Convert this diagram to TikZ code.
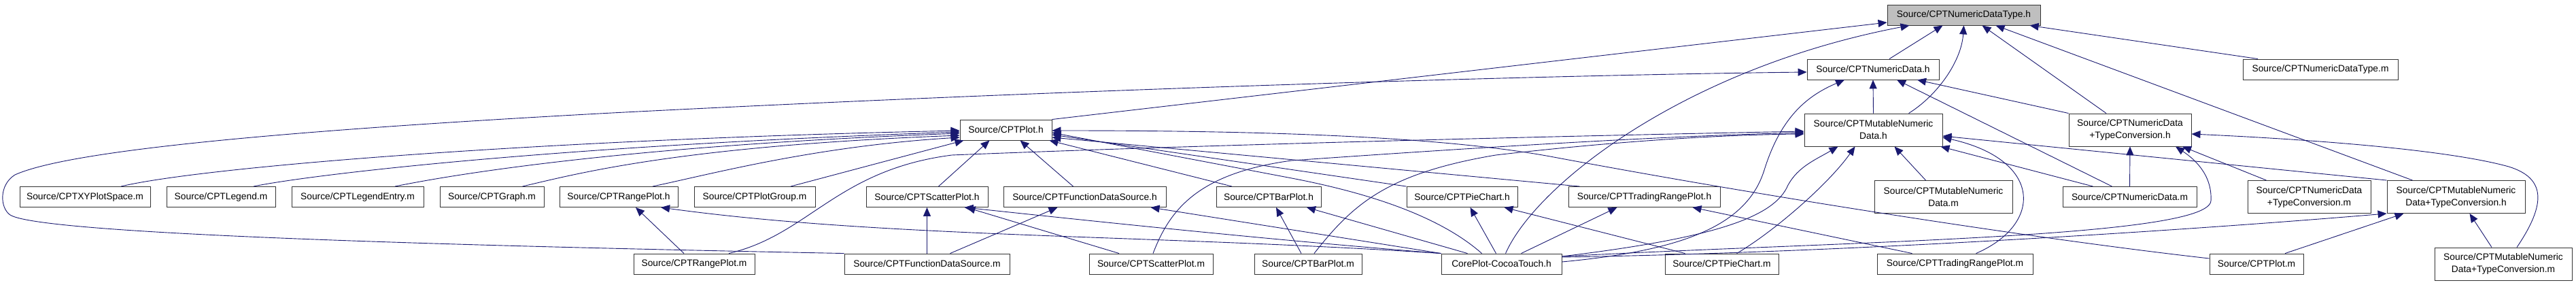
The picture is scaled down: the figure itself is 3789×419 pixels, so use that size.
\documentclass[tikz,border=0pt]{standalone}
\usepackage{fontspec}
\setmainfont{Liberation Sans}
\usetikzlibrary{arrows.meta}
\definecolor{incCol}{HTML}{191970}
\definecolor{curCol}{HTML}{BFBFBF}
\tikzset{
  file/.style={draw=black!80, fill=white, line width=0.9pt, minimum height=30pt, inner sep=0pt,
               font=\fontsize{13.8}{18}\selectfont, align=center},
  twoline/.style={minimum height=48pt},
  curfile/.style={file, fill=curCol},
  inc/.style={-{Triangle[length=13pt,width=11pt]}, incCol, line width=0.9pt},   % "is included by"
}
\begin{document}
\begin{tikzpicture}[x=1pt,y=-1pt]
  \useasboundingbox (0,0) rectangle (3789,419);

  % rows 0-2
  \node[curfile, minimum width=225pt] (ndt) at (2888.5,22) {Source/CPTNumericDataType.h};
  \node[file, minimum width=194pt] (nd)   at (2755,102)  {Source/CPTNumericData.h};
  \node[file, minimum width=228pt] (ndtm) at (3413,102)  {Source/CPTNumericDataType.m};
  \node[file, minimum width=135pt] (ploth) at (1479.5,191) {Source/CPTPlot.h};
  \node[file, twoline, minimum width=203pt] (mndh)  at (2755.5,191) {Source/CPTMutableNumeric\\Data.h};
  \node[file, twoline, minimum width=180pt] (ndtch) at (3133,191)   {Source/CPTNumericData\\+TypeConversion.h};

  % row 3
  \node[file, minimum width=192pt] (xyps)     at (125,289.5)  {Source/CPTXYPlotSpace.m};
  \node[file, minimum width=160pt] (legend)   at (325,289.5)  {Source/CPTLegend.m};
  \node[file, minimum width=194pt] (legentry) at (526,289.5)  {Source/CPTLegendEntry.m};
  \node[file, minimum width=153pt] (graph)    at (723.5,289.5) {Source/CPTGraph.m};
  \node[file, minimum width=174pt] (rangeh)   at (910,289.5)  {Source/CPTRangePlot.h};
  \node[file, minimum width=178pt] (pgroup)   at (1110,289.5) {Source/CPTPlotGroup.m};
  \node[file, minimum width=179pt] (scath)    at (1363.5,289.5) {Source/CPTScatterPlot.h};
  \node[file, minimum width=239pt] (fdsh)     at (1595.5,289.5) {Source/CPTFunctionDataSource.h};
  \node[file, minimum width=154pt] (barh)     at (1866,289.5) {Source/CPTBarPlot.h};
  \node[file, minimum width=163pt] (pieh)     at (2150.5,289.5) {Source/CPTPieChart.h};
  \node[file, minimum width=223pt] (trph)     at (2418.5,289.5) {Source/CPTTradingRangePlot.h};
  \node[file, twoline, minimum width=203pt] (mndm)   at (2858.5,289.5) {Source/CPTMutableNumeric\\Data.m};
  \node[file, minimum width=197pt] (ndm)      at (3132.5,289.5) {Source/CPTNumericData.m};
  \node[file, twoline, minimum width=181pt] (ndtcm)  at (3396.5,289.5) {Source/CPTNumericData\\+TypeConversion.m};
  \node[file, twoline, minimum width=203pt] (mndtch) at (3612.5,289.5) {Source/CPTMutableNumeric\\Data+TypeConversion.h};

  % row 4
  \node[file, minimum width=178pt] (rangem) at (1021,388)   {Source/CPTRangePlot.m};
  \node[file, minimum width=243pt] (fdsm)   at (1363.5,388) {Source/CPTFunctionDataSource.m};
  \node[file, minimum width=182pt] (scatm)  at (1693,388)   {Source/CPTScatterPlot.m};
  \node[file, minimum width=158pt] (barm)   at (1924,388)   {Source/CPTBarPlot.m};
  \node[file, minimum width=177pt] (cpct)   at (2208.5,388) {CorePlot-CocoaTouch.h};
  \node[file, minimum width=167pt] (piem)   at (2532.5,388) {Source/CPTPieChart.m};
  \node[file, minimum width=229pt] (trpm)   at (2875.5,388) {Source/CPTTradingRangePlot.m};
  \node[file, minimum width=138pt] (plotm)  at (3319,388)   {Source/CPTPlot.m};
  \node[file, twoline, minimum width=202pt] (mndtcm) at (3682,388) {Source/CPTMutableNumeric\\Data+TypeConversion.m};

  % into CPTNumericDataType.h
  \draw[inc] (ploth.north east) -- ([yshift=-11pt]ndt.west);
  \draw[inc] ([xshift=6pt]cpct.north) .. controls (2260,270) and (2480,100) .. ([xshift=-80pt]ndt.south);
  \draw[inc] ([xshift=24pt]nd.north) -- ([xshift=-31pt]ndt.south);
  \draw[inc] ([xshift=52pt]mndh.north) .. controls (2850,140) and (2885,90) .. (ndt.south);
  \draw[inc] ([xshift=-35pt]ndtch.north) -- ([xshift=27pt]ndt.south);
  \draw[inc] ([xshift=-64pt]mndtch.north) -- ([xshift=47pt]ndt.south);
  \draw[inc] ([xshift=-92pt]ndtm.north) -- ([xshift=97pt]ndt.south);

  % into CPTNumericData.h
  \draw[inc] (fdsm.north west) .. controls (700,362) and (60,345) .. (15,316)
    .. controls (0,306) and (-2,272) .. (22,257)
    .. controls (100,222) and (400,193) .. (900,166)
    .. controls (1600,130) and (2300,110) .. ([yshift=-4pt]nd.west);
  \draw[inc] (mndh.north) -- (nd.south);
  \draw[inc] (ndtch.north west) -- ([xshift=65pt]nd.south);
  \draw[inc] ([xshift=-26pt]ndm.north) -- ([xshift=35pt]nd.south);
  \draw[inc] ([yshift=3pt]cpct.east) .. controls (2480,368) and (2570,330) .. (2595,250)
    .. controls (2620,170) and (2660,140) .. ([xshift=-42pt]nd.south);

  % into CPTMutableNumericData.h
  \draw[inc] ([yshift=11pt]cpct.east) .. controls (2520,350) and (2610,320) .. (2630,272)
    .. controls (2645,245) and (2670,235) .. ([xshift=-52pt]mndh.south);
  \draw[inc] ([xshift=-26pt]mndm.north) -- ([xshift=31pt]mndh.south);
  \draw[inc] ([xshift=22pt]piem.north) .. controls (2610,340) and (2690,270) .. ([xshift=-27pt]mndh.south);
  \draw[inc] ([xshift=31pt]trpm.north) .. controls (3005,330) and (3005,235) .. ([yshift=-11pt]mndh.east);
  \draw[inc] ([xshift=-54pt]ndm.north) -- ([xshift=-3pt]mndh.south east);
  \draw[inc] (mndtch.north west) -- ([yshift=-9pt]mndh.east);
  \draw[inc] ([xshift=51pt]rangem.north) .. controls (1190,345) and (1230,250) .. (1400,228)
    .. controls (1800,212) and (2300,200) .. ([yshift=-2pt]mndh.west);
  \draw[inc] ([xshift=3pt]scatm.north) .. controls (1720,310) and (1760,255) .. (1900,236)
    .. controls (2200,215) and (2450,200) .. ([yshift=-4pt]mndh.west);
  \draw[inc] ([xshift=9pt]barm.north) .. controls (1990,300) and (2040,255) .. (2200,228)
    .. controls (2400,205) and (2550,198) .. ([yshift=-6pt]mndh.west);

  % into CPTPlot.h
  \draw[inc] ([xshift=53pt]xyps.north) .. controls (300,245) and (800,205) .. ([yshift=-1pt]ploth.west);
  \draw[inc] ([xshift=48pt]legend.north) .. controls (450,258) and (800,215) .. ([yshift=-3pt]ploth.west);
  \draw[inc] ([xshift=55pt]legentry.north) .. controls (650,260) and (900,215) .. ([yshift=-5pt]ploth.west);
  \draw[inc] ([xshift=45pt]graph.north) .. controls (850,255) and (1000,215) .. ([yshift=-8pt]ploth.west);
  \draw[inc] ([xshift=50pt]rangeh.north) .. controls (1050,255) and (1200,215) .. ([yshift=-11pt]ploth.west);
  \draw[inc] ([xshift=53pt]pgroup.north) -- ([xshift=6pt]ploth.south west);
  \draw[inc] ([xshift=17pt]scath.north) -- ([xshift=-24pt]ploth.south);
  \draw[inc] ([xshift=-17pt]fdsh.north) -- ([xshift=21pt]ploth.south);
  \draw[inc] ([xshift=-54pt]barh.north) -- ([xshift=-4pt]ploth.south east);
  \draw[inc] (pieh.north west) -- ([yshift=-7pt]ploth.east);
  \draw[inc] ([xshift=17pt]trph.north west) -- ([yshift=-11pt]ploth.east);
  \draw[inc] ([yshift=8pt]plotm.west) .. controls (3000,352) and (2600,290) .. (2280,230)
    .. controls (2100,197) and (1800,192) .. ([yshift=-1pt]ploth.east);
  \draw[inc] ([xshift=-29pt]cpct.north) .. controls (2120,320) and (2020,285) .. (1900,262)
    -- ([yshift=-4pt]ploth.east);

  % into the plot headers
  \draw[inc] ([xshift=-15pt]rangem.north) -- ([xshift=25pt]rangeh.south);
  \draw[inc] (cpct.north west) .. controls (1700,345) and (1300,350) .. ([xshift=62pt]rangeh.south);
  \draw[inc] (fdsm.north) -- (scath.south);
  \draw[inc] ([xshift=-47pt]scatm.north) -- ([xshift=58pt]scath.south);
  \draw[inc] (cpct.north west) .. controls (1900,355) and (1700,335) .. ([xshift=55pt]scath.south);
  \draw[inc] ([xshift=34pt]fdsm.north) -- ([xshift=-40pt]fdsh.south);
  \draw[inc] (cpct.north west) -- ([xshift=97pt]fdsh.south);
  \draw[inc] ([xshift=-10pt]barm.north) -- ([xshift=11pt]barh.south);
  \draw[inc] ([xshift=-50pt]cpct.north) -- ([xshift=56pt]barh.south);
  \draw[inc] ([xshift=-8pt]cpct.north) -- ([xshift=12pt]pieh.south);
  \draw[inc] ([xshift=-54pt]piem.north) -- ([xshift=62pt]pieh.south);
  \draw[inc] ([xshift=29pt]cpct.north) -- ([xshift=-40pt]trph.south);
  \draw[inc] ([xshift=-63pt]trpm.north) -- ([xshift=71pt]trph.south);

  % into CPTNumericData+TypeConversion.h
  \draw[inc] (ndm.north) -- (ndtch.south);
  \draw[inc] ([xshift=-63pt]ndtcm.north) -- ([xshift=77pt]ndtch.south);
  \draw[inc] ([xshift=20pt]mndtcm.north) .. controls (3745,300) and (3745,262) .. (3690,245)
    .. controls (3600,220) and (3400,205) .. ([yshift=-6pt]ndtch.east);
  \draw[inc] ([yshift=11pt]cpct.east) .. controls (2700,355) and (3250,350) .. (3252,295)
    .. controls (3254,255) and (3225,232) .. ([xshift=67pt]ndtch.south);

  % into CPTMutableNumericData+TypeConversion.h
  \draw[inc] ([yshift=10pt]cpct.east) .. controls (2700,372) and (3200,340) .. (mndtch.south west);
  \draw[inc] ([xshift=42pt]plotm.north) -- ([xshift=-77pt]mndtch.south);
  \draw[inc] ([xshift=-17pt]mndtcm.north) -- ([xshift=20pt]mndtch.south);
\end{tikzpicture}
\end{document}
